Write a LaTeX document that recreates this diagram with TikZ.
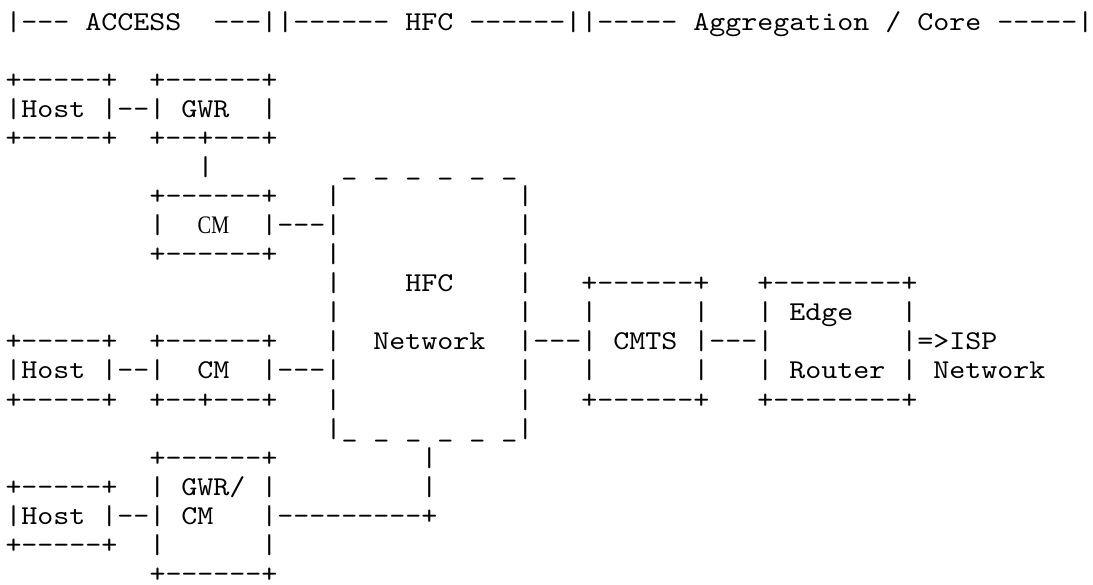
\documentclass[tikz,border=0pt]{standalone}
\usepackage{fontspec}
% Typewriter face for the character drawing: 16pt per column
\newfontfamily\asciifont{lmmono10-regular.otf}[FakeStretch=1.1204]
\newfontfamily\cmserif{Liberation Serif}[FakeStretch=0.81]

% column c, row r  ->  left edge / baseline
\newcommand\colx[1]{5.5+16*(#1)}
\newcommand\rowy[1]{118.0+29.0*((#1)-4)}

\tikzset{
  ascii/.style={anchor=base west, inner sep=0pt, outer sep=0pt,
                font=\asciifont\fontsize{27.2pt}{29pt}\selectfont, text=black},
}
\newcommand\us{\_}

\begin{document}
\begin{tikzpicture}[x=1pt,y=-1pt]
  \fill[white] (0,0) rectangle (1093,585);
  \useasboundingbox (0,0) rectangle (1093,585);

  % segment header
  \node[ascii] (r1) at ({\colx{0}},{\rowy{1}})
    {|---~ACCESS~~---||------~HFC~------||-----~Aggregation~/~Core~-----|};

  % host + gateway router, first CM
  \node[ascii] (r3) at ({\colx{0}},{\rowy{3}}) {+-----+~~+------+};
  \node[ascii] (r4) at ({\colx{0}},{\rowy{4}}) {|Host~|--|~GWR~~|};
  \node[ascii] (r5) at ({\colx{0}},{\rowy{5}}) {+-----+~~+--+---+};
  \node[ascii] (r6) at ({\colx{12}},{\rowy{6}}) {|~~~~~~~~\us~\us~\us~\us~\us~\us};
  \node[ascii] (r7) at ({\colx{9}},{\rowy{7}}) {+------+~~~|~~~~~~~~~~~|};
  \node[ascii] (r8) at ({\colx{9}},{\rowy{8}})
    {|~~\makebox[32pt][c]{\cmserif\fontsize{25.2pt}{29pt}\selectfont CM}~~|---|~~~~~~~~~~~|};
  \node[ascii] (r9) at ({\colx{9}},{\rowy{9}}) {+------+~~~|~~~~~~~~~~~|};

  % HFC network, CMTS, edge router
  \node[ascii] (r10) at ({\colx{20}},{\rowy{10}})
    {|~~~~HFC~~~~|~~~+------+~~~+--------+};
  \node[ascii] (r11) at ({\colx{20}},{\rowy{11}})
    {|~~~~~~~~~~~|~~~|~~~~~~|~~~|~Edge~~~|};
  \node[ascii] (r12) at ({\colx{0}},{\rowy{12}})
    {+-----+~~+------+~~~|~~Network~~|---|~CMTS~|---|~~~~~~~~|=>ISP};
  \node[ascii] (r13) at ({\colx{0}},{\rowy{13}})
    {|Host~|--|~~CM~~|---|~~~~~~~~~~~|~~~|~~~~~~|~~~|~Router~|~Network};
  \node[ascii] (r14) at ({\colx{0}},{\rowy{14}})
    {+-----+~~+--+---+~~~|~~~~~~~~~~~|~~~+------+~~~+--------+};
  \node[ascii] (r15) at ({\colx{20}},{\rowy{15}}) {|\us~\us~\us~\us~\us~\us|};

  % host + combined GWR/CM
  \node[ascii] (r16) at ({\colx{9}},{\rowy{16}}) {+------+~~~~~~~~~|};
  \node[ascii] (r17) at ({\colx{0}},{\rowy{17}}) {+-----+~~|~GWR/~|~~~~~~~~~|};
  \node[ascii] (r18) at ({\colx{0}},{\rowy{18}}) {|Host~|--|~CM~~~|---------+};
  \node[ascii] (r19) at ({\colx{0}},{\rowy{19}}) {+-----+~~|~~~~~~|};
  \node[ascii] (r20) at ({\colx{9}},{\rowy{20}}) {+------+};
\end{tikzpicture}
\end{document}
